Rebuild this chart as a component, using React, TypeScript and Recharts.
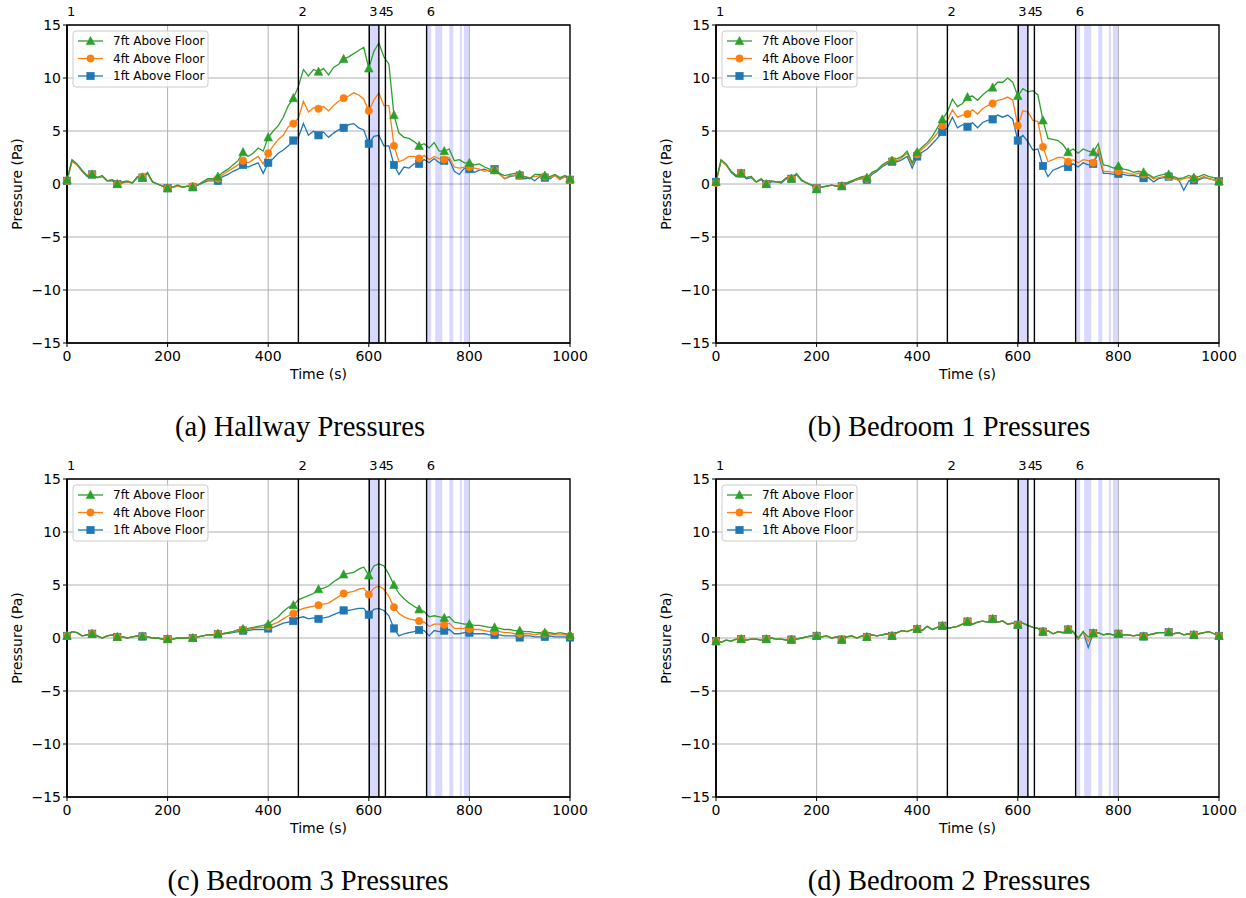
import React from 'react';
import { LineChart, Line, XAxis, YAxis, CartesianGrid, ReferenceLine, ReferenceArea } from 'recharts';

const TIME = [
  0, 10, 20, 30, 40, 50, 60, 70, 80, 90,
  100, 110, 120, 130, 140, 150, 160, 170, 180, 190,
  200, 210, 220, 230, 240, 250, 260, 270, 280, 290,
  300, 310, 320, 330, 340, 350, 360, 370, 380, 390,
  400, 410, 420, 430, 440, 450, 460, 470, 480, 490,
  500, 510, 520, 530, 540, 550, 560, 570, 580, 590,
  600, 610, 620, 630, 640, 650, 660, 670, 680, 690,
  700, 710, 720, 730, 740, 750, 760, 770, 780, 790,
  800, 810, 820, 830, 840, 850, 860, 870, 880, 890,
  900, 910, 920, 930, 940, 950, 960, 970, 980, 990,
  1000,
];

// Hallway
const HALL_7FT = [
  0.4, 2.3, 1.9, 1.3, 0.8, 0.9, 0.6, 0.8, 0.3, 0.4,
  0.0, 0.2, 0.3, 0.1, 0.7, 0.6, 1.1, 0.2, 0.0, -0.2,
  -0.4, -0.3, -0.1, -0.3, -0.2, -0.3, -0.1, 0.2, 0.5, 0.5,
  0.7, 1.1, 1.4, 1.8, 2.2, 3.0, 2.6, 2.9, 3.4, 3.1,
  4.4, 5.0, 5.5, 6.3, 7.4, 8.1, 9.2, 10.8, 10.2, 10.8,
  10.6, 10.9, 10.3, 11.0, 11.3, 11.8, 12.0, 12.3, 12.6, 12.9,
  10.9, 12.5, 13.3, 12.0, 11.3, 6.5, 4.8, 4.4, 4.3, 4.0,
  3.6, 3.8, 3.4, 3.9, 3.1, 3.1, 3.3, 2.2, 2.3, 2.0,
  2.0, 1.8, 1.9, 1.6, 1.4, 1.3, 1.0, 0.8, 0.9, 1.0,
  0.9, 0.7, 0.5, 0.9, 0.9, 0.8, 0.7, 0.9, 0.6, 0.8,
  0.5,
];
const HALL_4FT = [
  0.3, 2.1, 1.8, 1.2, 0.8, 0.9, 0.6, 0.7, 0.3, 0.4,
  0.0, 0.2, 0.2, 0.1, 0.6, 0.7, 1.0, 0.2, 0.0, -0.2,
  -0.4, -0.3, -0.2, -0.3, -0.2, -0.2, -0.1, 0.2, 0.4, 0.4,
  0.5, 0.9, 1.2, 1.5, 1.8, 2.2, 2.0, 2.3, 2.6, 1.9,
  2.9, 3.6, 4.2, 4.6, 5.4, 5.7, 6.2, 7.8, 6.8, 7.2,
  7.1, 7.3, 6.9, 7.4, 7.8, 8.1, 8.3, 8.6, 8.4, 8.0,
  6.9, 7.9, 8.6, 7.4, 7.4, 3.6, 2.1, 2.3, 2.6, 2.6,
  2.4, 2.7, 2.3, 2.6, 2.4, 2.3, 2.5, 1.6, 1.5, 1.6,
  1.6, 1.5, 1.4, 1.2, 1.3, 1.3, 0.9, 0.5, 0.8, 0.8,
  0.8, 0.7, 0.6, 0.7, 0.8, 0.7, 0.6, 0.8, 0.4, 0.7,
  0.4,
];
const HALL_1FT = [
  0.3, 2.2, 1.8, 1.2, 0.7, 0.9, 0.6, 0.7, 0.3, 0.3,
  0.0, 0.1, 0.2, 0.1, 0.6, 0.6, 1.0, 0.2, 0.0, -0.2,
  -0.4, -0.3, -0.2, -0.3, -0.2, -0.3, -0.1, 0.1, 0.3, 0.3,
  0.3, 0.7, 0.9, 1.2, 1.4, 1.8, 1.6, 1.8, 2.0, 1.0,
  2.0, 2.4, 2.9, 3.2, 3.6, 4.1, 4.4, 5.7, 4.6, 5.0,
  4.6, 4.9, 4.4, 4.8, 5.1, 5.3, 5.6, 5.7, 5.3, 5.1,
  3.8, 4.5, 4.6, 3.6, 3.6, 1.8, 0.9, 1.6, 1.5, 1.9,
  1.9, 2.3, 2.0, 2.4, 2.0, 2.2, 2.3, 1.2, 0.9, 1.5,
  1.4, 1.1, 1.3, 1.4, 1.2, 1.4, 1.0, 0.5, 0.7, 0.8,
  0.8, 0.5, 0.6, 0.3, 0.7, 0.6, 0.5, 0.8, 0.5, 0.7,
  0.4,
];

// Bedroom 1
const BED1_7FT = [
  0.2, 2.3, 1.9, 1.2, 0.8, 1.0, 0.6, 0.7, 0.2, 0.5,
  0.0, 0.3, 0.2, 0.2, 0.6, 0.5, 1.0, 0.4, 0.1, -0.1,
  -0.5, -0.3, -0.2, -0.1, -0.2, -0.2, 0.1, 0.3, 0.5, 0.7,
  0.6, 1.1, 1.3, 1.8, 2.1, 2.2, 2.4, 2.6, 3.1, 2.0,
  3.0, 3.5, 3.9, 4.5, 5.3, 6.1, 6.8, 8.0, 7.3, 7.6,
  8.2, 8.3, 7.9, 8.4, 8.8, 9.1, 9.6, 9.6, 10.0, 9.6,
  8.3, 9.0, 8.7, 8.8, 8.4, 6.0, 4.3, 4.2, 4.1, 3.7,
  3.0, 3.3, 2.9, 3.3, 3.1, 3.0, 3.8, 1.8, 1.7, 1.5,
  1.7, 1.4, 1.3, 1.1, 1.2, 1.1, 0.9, 0.6, 0.8, 0.9,
  0.9, 0.7, 0.5, 0.6, 0.8, 0.6, 0.7, 0.9, 0.7, 0.6,
  0.25,
];
const BED1_4FT = [
  0.1, 2.2, 1.8, 1.2, 0.8, 1.0, 0.6, 0.7, 0.2, 0.4,
  0.0, 0.3, 0.2, 0.2, 0.6, 0.5, 0.9, 0.4, 0.1, -0.1,
  -0.4, -0.3, -0.2, -0.1, -0.2, -0.2, 0.1, 0.3, 0.4, 0.6,
  0.5, 1.0, 1.3, 1.7, 2.0, 2.2, 2.2, 2.5, 2.9, 1.8,
  2.8, 3.3, 3.7, 4.2, 4.8, 5.5, 6.0, 7.0, 6.3, 6.5,
  6.6, 7.0, 6.6, 7.1, 7.4, 7.6, 7.9, 8.0, 8.2, 7.9,
  5.5, 6.9, 6.8, 6.0, 5.9, 3.5, 2.1, 2.3, 2.5, 2.5,
  2.1, 2.3, 2.0, 2.3, 2.2, 2.0, 3.3, 1.2, 1.2, 1.1,
  1.2, 1.1, 1.0, 0.9, 1.0, 0.9, 0.8, 0.5, 0.6, 0.7,
  0.7, 0.6, 0.3, 0.5, 0.6, 0.5, 0.5, 0.7, 0.5, 0.4,
  0.2,
];
const BED1_1FT = [
  0.2, 2.2, 1.8, 1.1, 0.7, 1.0, 0.5, 0.6, 0.2, 0.4,
  0.0, 0.2, 0.2, 0.1, 0.5, 0.5, 0.9, 0.3, 0.1, -0.1,
  -0.4, -0.3, -0.2, -0.1, -0.2, -0.2, 0.0, 0.2, 0.4, 0.5,
  0.4, 0.9, 1.2, 1.6, 1.9, 2.1, 2.1, 2.3, 2.6, 1.5,
  2.6, 3.0, 3.3, 3.8, 4.3, 4.9, 5.3, 6.3, 5.3, 5.6,
  5.4, 5.8, 5.3, 5.8, 6.0, 6.1, 6.5, 6.3, 6.5, 6.1,
  4.1, 4.6, 4.0, 3.2, 3.3, 1.7, 0.7, 1.3, 1.5, 1.7,
  1.6, 1.9, 1.6, 2.0, 1.8, 1.9, 2.9, 1.0, 1.0, 0.9,
  0.95, 0.9, 0.8, 0.8, 0.7, 0.55, 0.6, 0.2, 0.5, 0.6,
  0.7, 0.5, 0.4, -0.6, 0.3, 0.35, 0.4, 0.6, 0.5, 0.4,
  0.25,
];

// Bedroom 3
const BED3_7FT = [
  0.2, 0.6, 0.5, 0.2, 0.3, 0.4, 0.2, 0.0, 0.2, 0.3,
  0.1, 0.1, 0.0, 0.1, 0.2, 0.15, 0.1, 0.0, 0.0, -0.1,
  -0.1, -0.1, 0.0, 0.0, 0.0, 0.0, 0.1, 0.2, 0.3, 0.3,
  0.4, 0.4, 0.5, 0.6, 0.8, 0.85, 0.9, 1.0, 1.1, 1.2,
  1.3, 1.7, 2.0, 2.5, 2.9, 3.1, 3.6, 3.8, 4.0, 4.2,
  4.6, 4.7, 4.9, 5.3, 5.6, 6.0, 6.1, 6.2, 6.5, 6.7,
  5.9, 6.8, 7.0, 6.8, 6.0, 5.0, 4.2, 3.7, 3.3, 3.0,
  2.7, 2.5, 2.0, 2.1, 2.0, 1.9, 2.0, 1.5, 1.4, 1.3,
  1.3, 1.2, 1.2, 1.1, 1.0, 1.0, 0.9, 0.8, 0.8, 0.7,
  0.7, 0.6, 0.6, 0.5, 0.5, 0.5, 0.5, 0.4, 0.5, 0.4,
  0.3,
];
const BED3_4FT = [
  0.2, 0.6, 0.5, 0.2, 0.3, 0.4, 0.2, 0.0, 0.2, 0.3,
  0.1, 0.1, 0.0, 0.1, 0.2, 0.15, 0.1, 0.0, 0.0, -0.1,
  -0.1, -0.1, 0.0, 0.0, 0.0, 0.0, 0.1, 0.2, 0.3, 0.3,
  0.4, 0.4, 0.5, 0.6, 0.7, 0.8, 0.8, 0.9, 1.0, 1.0,
  1.1, 1.3, 1.5, 1.8, 2.1, 2.3, 2.6, 2.8, 2.9, 3.0,
  3.1, 3.2, 3.3, 3.6, 3.9, 4.2, 4.3, 4.4, 4.6, 4.7,
  4.1, 4.7, 4.9, 4.6, 3.9, 2.9, 2.3, 2.0, 1.8, 1.7,
  1.6, 1.5, 1.1, 1.3, 1.3, 1.25, 1.4, 0.9, 0.9, 0.9,
  0.85, 0.8, 0.8, 0.7, 0.6, 0.6, 0.6, 0.5, 0.5, 0.4,
  0.4, 0.4, 0.4, 0.3, 0.4, 0.4, 0.4, 0.3, 0.3, 0.3,
  0.2,
];
const BED3_1FT = [
  0.2, 0.6, 0.5, 0.2, 0.3, 0.4, 0.2, 0.0, 0.2, 0.3,
  0.1, 0.1, 0.0, 0.1, 0.2, 0.15, 0.1, 0.0, 0.0, -0.1,
  -0.1, -0.1, 0.0, 0.0, 0.0, 0.0, 0.1, 0.2, 0.3, 0.3,
  0.35, 0.4, 0.45, 0.5, 0.6, 0.7, 0.7, 0.8, 0.8, 0.8,
  0.9, 1.0, 1.2, 1.4, 1.5, 1.6, 1.9, 2.0, 1.8, 1.9,
  1.8, 1.9, 2.0, 2.2, 2.4, 2.6, 2.6, 2.7, 2.8, 2.8,
  2.2, 2.7, 2.8, 2.6, 2.1, 0.9, 0.2, 0.4, 0.5, 0.6,
  0.75, 0.7, 0.2, 0.7, 0.6, 0.7, 0.8, 0.4, 0.4, 0.5,
  0.5, 0.4, 0.4, 0.4, 0.3, 0.3, 0.3, 0.2, 0.2, 0.2,
  0.05, 0.2, 0.2, 0.1, 0.1, 0.1, 0.2, 0.1, 0.1, 0.1,
  0.05,
];

// Bedroom 2
const BED2_7FT = [
  -0.3, -0.4, -0.2, -0.3, -0.1, -0.1, -0.2, -0.1, -0.1, -0.2,
  -0.1, 0.0, -0.1, -0.1, -0.2, -0.15, -0.1, 0.0, 0.1, 0.2,
  0.2, 0.1, 0.2, 0.0, 0.1, -0.15, 0.1, 0.2, 0.0, 0.2,
  0.1, 0.3, 0.2, 0.3, 0.4, 0.2, 0.5, 0.7, 0.6, 0.8,
  0.85, 0.7, 1.1, 0.8, 1.0, 1.15, 0.9, 1.0, 1.1, 1.3,
  1.55, 1.3, 1.5, 1.6, 1.5, 1.8, 1.5, 1.6, 1.3, 1.4,
  1.25, 1.4, 1.2, 1.0, 0.9, 0.6, 0.7, 0.4, 0.6, 0.5,
  0.8, 0.6, 0.0, 0.6, 0.1, 0.45, 0.5, 0.3, 0.4, 0.3,
  0.4, 0.3, 0.3, 0.2, 0.3, 0.15, 0.3, 0.4, 0.5, 0.5,
  0.55, 0.4, 0.5, 0.3, 0.4, 0.3, 0.4, 0.5, 0.6, 0.4,
  0.2,
];
const BED2_4FT = [
  -0.3, -0.4, -0.2, -0.3, -0.1, -0.1, -0.2, -0.1, -0.1, -0.2,
  -0.1, 0.0, -0.1, -0.1, -0.2, -0.15, -0.1, 0.0, 0.1, 0.2,
  0.2, 0.1, 0.2, 0.0, 0.1, -0.15, 0.1, 0.2, 0.0, 0.2,
  0.1, 0.3, 0.2, 0.3, 0.4, 0.2, 0.5, 0.7, 0.6, 0.8,
  0.85, 0.7, 1.1, 0.8, 1.0, 1.15, 0.9, 1.0, 1.1, 1.3,
  1.55, 1.3, 1.5, 1.6, 1.5, 1.8, 1.5, 1.6, 1.3, 1.4,
  1.25, 1.4, 1.2, 1.0, 0.9, 0.6, 0.7, 0.4, 0.6, 0.5,
  0.8, 0.6, -0.1, 0.6, -0.3, 0.45, 0.5, 0.3, 0.4, 0.3,
  0.4, 0.3, 0.3, 0.2, 0.3, 0.15, 0.3, 0.4, 0.5, 0.5,
  0.55, 0.4, 0.5, 0.3, 0.4, 0.3, 0.4, 0.5, 0.6, 0.4,
  0.2,
];
const BED2_1FT = [
  -0.3, -0.4, -0.2, -0.3, -0.1, -0.1, -0.2, -0.1, -0.1, -0.2,
  -0.1, 0.0, -0.1, -0.1, -0.2, -0.15, -0.1, 0.0, 0.1, 0.2,
  0.2, 0.1, 0.2, 0.0, 0.1, -0.15, 0.1, 0.2, 0.0, 0.2,
  0.1, 0.3, 0.2, 0.3, 0.4, 0.2, 0.5, 0.7, 0.6, 0.8,
  0.85, 0.7, 1.1, 0.8, 1.0, 1.15, 0.9, 1.0, 1.1, 1.3,
  1.55, 1.3, 1.5, 1.6, 1.5, 1.8, 1.5, 1.6, 1.3, 1.4,
  1.25, 1.4, 1.2, 1.0, 0.9, 0.6, 0.7, 0.4, 0.6, 0.5,
  0.8, 0.6, -0.1, 0.6, -0.9, 0.45, 0.5, 0.3, 0.4, 0.3,
  0.4, 0.3, 0.3, 0.2, 0.3, 0.15, 0.3, 0.4, 0.5, 0.5,
  0.55, 0.4, 0.5, 0.3, 0.4, 0.3, 0.4, 0.5, 0.6, 0.4,
  0.2,
];

const EVENT_TIMES = [0, 460, 601, 620, 633, 715];
const EVENT_LABELS = ['1', '2', '3', '4', '5', '6'];
const SHADE_START = [601, 717, 732, 760, 781, 789];
const SHADE_END = [620, 724, 746, 768, 785, 799];
const X_TICKS = [0, 200, 400, 600, 800, 1000];
const Y_TICKS = [-15, -10, -5, 0, 5, 10, 15];
const SERIES_NAMES = ['7ft Above Floor', '4ft Above Floor', '1ft Above Floor'];

const GREEN = '#2ca02c';
const ORANGE = '#ff7f0e';
const BLUE = '#1f77b4';
const FONT = '"DejaVu Sans", sans-serif';

type Kind = 'tri' | 'circle' | 'square';

function Marker({ kind, cx, cy, color }: { kind: Kind; cx: number; cy: number; color: string }) {
  if (kind === 'tri') {
    return <polygon points={`${cx},${cy - 4.6} ${cx - 4.3},${cy + 3.6} ${cx + 4.3},${cy + 3.6}`} fill={color} stroke={color} strokeWidth={0.6} />;
  }
  if (kind === 'circle') {
    return <circle cx={cx} cy={cy} r={3.7} fill={color} stroke={color} strokeWidth={0.6} />;
  }
  return <rect x={cx - 3.7} y={cy - 3.7} width={7.4} height={7.4} fill={color} stroke={color} strokeWidth={0.6} />;
}

const makeDot = (kind: Kind, color: string) => (props: any) => {
  const { cx, cy, index } = props;
  if (index % 5 !== 0 || cx == null || cy == null) return <g key={`m-${kind}-${index}`} />;
  return (
    <g key={`m-${kind}-${index}`}>
      <Marker kind={kind} cx={cx} cy={cy} color={color} />
    </g>
  );
};

const fmtY = (v: number) => (v < 0 ? '\u2212' + Math.abs(v) : String(v));

function LegendBox() {
  const rows: { kind: Kind; color: string }[] = [
    { kind: 'tri', color: GREEN },
    { kind: 'circle', color: ORANGE },
    { kind: 'square', color: BLUE },
  ];
  return (
    <svg width={137} height={58} style={{ position: 'absolute', left: 72, top: 30 }}>
      <rect x={1} y={1} width={135} height={56} rx={3} fill="rgba(255,255,255,0.8)" stroke="#cccccc" />
      {rows.map((r, i) => {
        const cy = 11 + i * 17.5;
        return (
          <g key={i}>
            <line x1={6} x2={31} y1={cy} y2={cy} stroke={r.color} strokeWidth={1.3} />
            <Marker kind={r.kind} cx={18.5} cy={cy} color={r.color} />
            <text x={41} y={cy + 4.3} fontSize={12} fill="#000" fontFamily={FONT}>
              {SERIES_NAMES[i]}
            </text>
          </g>
        );
      })}
    </svg>
  );
}

function Panel({ left, top, seven, four, one }: { left: number; top: number; seven: number[]; four: number[]; one: number[] }) {
  const data = TIME.map((t, i) => ({ t, seven: seven[i], four: four[i], one: one[i] }));
  return (
    <div style={{ position: 'absolute', left, top, width: 597, height: 400 }}>
      <LineChart width={597} height={400} data={data} margin={{ top: 25, right: 27, bottom: 17, left: 0 }}>
        <CartesianGrid stroke="#b0b0b0" strokeWidth={1} />
        {SHADE_START.map((s, i) => (
          <ReferenceArea key={`sh-${i}`} x1={s} x2={SHADE_END[i]} fill="#0000ff" fillOpacity={0.15} stroke="none" />
        ))}
        <XAxis
          dataKey="t"
          type="number"
          domain={[0, 1000]}
          ticks={X_TICKS}
          height={40}
          tickSize={4}
          tickMargin={4}
          tick={{ fontSize: 14, fill: '#000', fontFamily: FONT }}
          axisLine={{ stroke: '#000' }}
          tickLine={{ stroke: '#000' }}
          label={{
            content: (p: any) => (
              <text x={p.viewBox.x + p.viewBox.width / 2} y={p.viewBox.y + 36} textAnchor="middle" fontSize={14} fill="#000" fontFamily={FONT}>
                Time (s)
              </text>
            ),
          }}
        />
        <YAxis
          type="number"
          domain={[-15, 15]}
          ticks={Y_TICKS}
          width={67}
          tickSize={4}
          tickMargin={2}
          tickFormatter={fmtY}
          tick={{ fontSize: 14, fill: '#000', fontFamily: FONT }}
          axisLine={{ stroke: '#000' }}
          tickLine={{ stroke: '#000' }}
          label={{
            content: (p: any) => (
              <text
                transform={`translate(17, ${p.viewBox.y + p.viewBox.height / 2}) rotate(-90)`}
                textAnchor="middle"
                dominantBaseline="central"
                fontSize={14}
                fill="#000"
                fontFamily={FONT}
              >
                Pressure (Pa)
              </text>
            ),
          }}
        />
        <Line dataKey="one" stroke={BLUE} strokeWidth={1.3} dot={makeDot('square', BLUE)} activeDot={false} isAnimationActive={false} />
        <Line dataKey="four" stroke={ORANGE} strokeWidth={1.3} dot={makeDot('circle', ORANGE)} activeDot={false} isAnimationActive={false} />
        <Line dataKey="seven" stroke={GREEN} strokeWidth={1.3} dot={makeDot('tri', GREEN)} activeDot={false} isAnimationActive={false} />
        {EVENT_TIMES.map((et, i) => (
          <ReferenceLine
            key={`ev-${i}`}
            x={et}
            stroke="#000"
            strokeWidth={1.4}
            label={{
              content: (p: any) => (
                <text x={p.viewBox.x} y={p.viewBox.y - 9} fontSize={13} fill="#000" fontFamily={FONT}>
                  {EVENT_LABELS[i]}
                </text>
              ),
            }}
          />
        ))}
        <ReferenceArea x1={0} x2={1000} y1={-15} y2={15} fill="none" stroke="#000" strokeWidth={1.3} />
      </LineChart>
      <LegendBox />
    </div>
  );
}

const CAPTIONS = ['(a) Hallway Pressures', '(b) Bedroom 1 Pressures', '(c) Bedroom 3 Pressures', '(d) Bedroom 2 Pressures'];

export default function App() {
  return (
    <div style={{ position: 'absolute', left: 0, top: 0, width: 1246, height: 898, overflow: 'hidden', background: '#fff', fontFamily: FONT }}>
      <Panel left={0} top={0} seven={HALL_7FT} four={HALL_4FT} one={HALL_1FT} />
      <Panel left={649} top={0} seven={BED1_7FT} four={BED1_4FT} one={BED1_1FT} />
      <Panel left={0} top={454} seven={BED3_7FT} four={BED3_4FT} one={BED3_1FT} />
      <Panel left={649} top={454} seven={BED2_7FT} four={BED2_4FT} one={BED2_1FT} />
      <svg width={1246} height={898} style={{ position: 'absolute', left: 0, top: 0, pointerEvents: 'none' }}>
        <text x={300} y={436} textAnchor="middle" fontSize={28.5} fontFamily='"Liberation Serif", serif' fill="#000">{CAPTIONS[0]}</text>
        <text x={949} y={436} textAnchor="middle" fontSize={28.5} fontFamily='"Liberation Serif", serif' fill="#000">{CAPTIONS[1]}</text>
        <text x={308} y={890} textAnchor="middle" fontSize={28.5} fontFamily='"Liberation Serif", serif' fill="#000">{CAPTIONS[2]}</text>
        <text x={949} y={890} textAnchor="middle" fontSize={28.5} fontFamily='"Liberation Serif", serif' fill="#000">{CAPTIONS[3]}</text>
      </svg>
    </div>
  );
}
